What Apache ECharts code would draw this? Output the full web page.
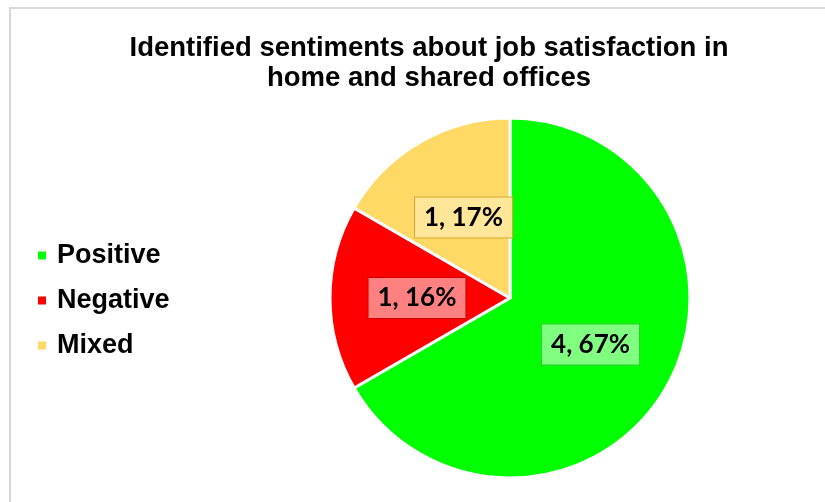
<!DOCTYPE html>
<html>
<head>
<meta charset="utf-8">
<script src="https://cdn.jsdelivr.net/npm/echarts@6/dist/echarts.min.js"></script>
<style>
  html, body { margin: 0; padding: 0; background: #fff; }
  #frame { position: absolute; left: 9px; top: 7px; width: 830px; height: 510px;
           border-left: 2px solid #d9d9d9; border-top: 2px solid #d9d9d9; }
  #chart { position: absolute; left: 0; top: 0; width: 825px; height: 502px; }
</style>
</head>
<body>
<div id="frame"></div>
<div id="chart"></div>
<script>
// Sentiment categories and counts
const categories = ['Positive', 'Negative', 'Mixed'];
const counts = [4, 1, 1];
const percentLabels = [67, 16, 17];
const sliceColors = ['#00ff00', '#ff0000', '#ffd966'];
const boxColors = ['#80ff80', '#ff8080', '#ffe699'];
const boxBorders = ['#33cc33', '#cc0000', '#d6a930'];

const chart = echarts.init(document.getElementById('chart'), null, { renderer: 'canvas' });

const data = categories.map((name, i) => ({
  name,
  value: counts[i],
  itemStyle: { color: sliceColors[i] },
  label: {
    backgroundColor: boxColors[i],
    borderColor: boxBorders[i],
    borderWidth: 1
  }
}));

chart.setOption({
  animation: false,
  title: {
    text: 'Identified sentiments about job satisfaction in\nhome and shared offices',
    left: 424,
    textAlign: 'center',
    top: 28,
    textStyle: {
      fontFamily: 'Liberation Sans, Arial, sans-serif',
      fontWeight: 'bold',
      fontSize: 27.5,
      lineHeight: 30,
      color: '#000'
    }
  },
  legend: {
    orient: 'vertical',
    left: 31,
    top: 237,
    itemWidth: 10,
    itemHeight: 10,
    itemGap: 18,
    icon: 'rect',
    textStyle: {
      fontFamily: 'Liberation Sans, Arial, sans-serif',
      fontWeight: 'bold',
      fontSize: 27,
      lineHeight: 24,
      color: '#000',
      padding: [0, 0, 0, 5]
    },
    data: categories
  },
  series: [{
    type: 'pie',
    center: [510, 298],
    radius: [0, 180],
    startAngle: 90,
    clockwise: true,
    itemStyle: { borderColor: '#fff', borderWidth: 3 },
    label: {
      position: 'inside',
      formatter: p => p.value + ', ' + percentLabels[p.dataIndex] + '%',
      fontFamily: 'Lato, Open Sans, sans-serif',
      fontWeight: 'bold',
      fontSize: 26,
      color: '#000',
      padding: [8, 9, 6, 9]
    },
    labelLine: { show: false },
    emphasis: { disabled: true },
    data
  }]
});
</script>
</body>
</html>
